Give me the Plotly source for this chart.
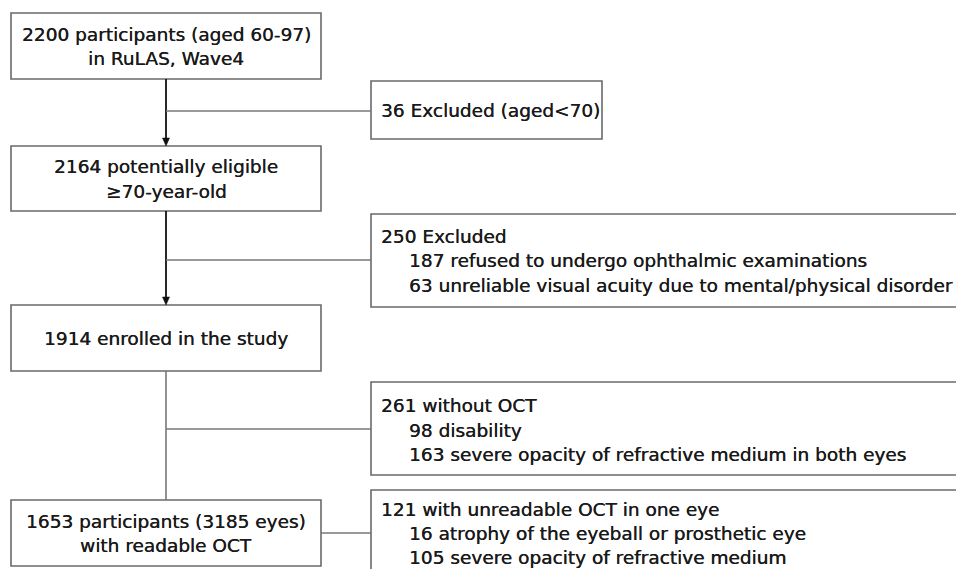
import plotly.graph_objects as go

# ---- content (data) ----
main_labels = [
    ["2200 participants (aged 60-97)", "in RuLAS, Wave4"],
    ["2164 potentially eligible", "≥70-year-old"],
    ["1914 enrolled in the study"],
    ["1653 participants (3185 eyes)", "with readable OCT"],
]
excl_heads = [
    "36 Excluded (aged<70)",
    "250 Excluded",
    "261 without OCT",
    "121 with unreadable OCT in one eye",
]
excl_items = [
    [],
    ["187 refused to undergo ophthalmic examinations",
     "63 unreliable visual acuity due to mental/physical disorder"],
    ["98 disability",
     "163 severe opacity of refractive medium in both eyes"],
    ["16 atrophy of the eyeball or prosthetic eye",
     "105 severe opacity of refractive medium"],
]

# ---- layout geometry (pixels in a 956x569 canvas) ----
W, H = 956, 569
main_x = (11, 321)
main_y = [(13, 79), (146, 211), (305, 371), (500, 566)]
excl_x0 = 371
excl_x1 = [602, 980, 980, 980]
excl_y = [(81, 139), (214, 307), (382, 475), (490, 610)]
excl_first = [None, 22, 23.5, 19]
excl_gap = [None, 24.7, 24.7, 24]
branch_y = [111, 260, 429, 533]
spine_x = 166
line_gap = 24.7
FONT = "DejaVu Sans"
FS = 18.5
TXT = "#1a1a1a"
BORDER = "#6a6a6a"
SHADOW = "0.35px 0 0 #1a1a1a"

shapes = []
ann = []

def rect(x0, y0, x1, y1):
    shapes.append(dict(type="rect", xref="x", yref="y", x0=x0, y0=y0, x1=x1, y1=y1,
                       line=dict(color=BORDER, width=1.6), fillcolor="white", layer="below"))

def seg(x0, y0, x1, y1, color, width=1.6):
    shapes.append(dict(type="line", xref="x", yref="y", x0=x0, y0=y0, x1=x1, y1=y1,
                       line=dict(color=color, width=width), layer="below"))

def head(x, ytip):
    shapes.append(dict(type="path", xref="x", yref="y",
                       path=f"M {x-3.5} {ytip-8} L {x+3.5} {ytip-8} L {x} {ytip} Z",
                       fillcolor="#111", line=dict(color="#111", width=0.5)))

def font():
    return dict(family=FONT, size=FS, color=TXT, shadow=SHADOW)

# main boxes
for (y0, y1), lines in zip(main_y, main_labels):
    rect(main_x[0], y0, main_x[1], y1)
    c = (y0 + y1) / 2 + 0.5
    n = len(lines)
    for i, t in enumerate(lines):
        yy = c + (i - (n - 1) / 2) * line_gap
        ann.append(dict(x=spine_x, y=yy, xref="x", yref="y", text=t, showarrow=False,
                        xanchor="center", yanchor="middle", font=font()))

# spine
seg(spine_x, main_y[0][1], spine_x, main_y[1][0] - 6, "#111", 1.8)
head(spine_x, main_y[1][0])
seg(spine_x, main_y[1][1], spine_x, main_y[2][0] - 6, "#111", 1.8)
head(spine_x, main_y[2][0])
seg(spine_x, main_y[2][1], spine_x, main_y[3][0], "#777", 1.6)

# exclusion boxes and branches
for k in range(4):
    y0, y1 = excl_y[k]
    rect(excl_x0, y0, excl_x1[k], y1)
    bx = main_x[1] if k == 3 else spine_x
    seg(bx, branch_y[k], excl_x0, branch_y[k], "#777", 1.6)
    lines = [excl_heads[k]] + excl_items[k]
    if k == 0:
        ys = [(y0 + y1) / 2]
    else:
        ys = [y0 + excl_first[k] + i * excl_gap[k] for i in range(len(lines))]
    for i, (t, yy) in enumerate(zip(lines, ys)):
        ann.append(dict(x=379 if i == 0 else 407, y=yy, xref="x", yref="y", text=t,
                        showarrow=False, xanchor="left", yanchor="middle", font=font()))

fig = go.Figure()
fig.update_layout(
    width=W, height=H, margin=dict(l=0, r=0, t=0, b=0),
    paper_bgcolor="white", plot_bgcolor="white",
    xaxis=dict(range=[0, W], visible=False, fixedrange=True),
    yaxis=dict(range=[H, 0], visible=False, fixedrange=True),
    shapes=shapes, annotations=ann, showlegend=False,
)
fig.write_html("out.html", config={"displayModeBar": False},
               post_script="document.body.style.margin='0';document.body.style.overflow='hidden';")
